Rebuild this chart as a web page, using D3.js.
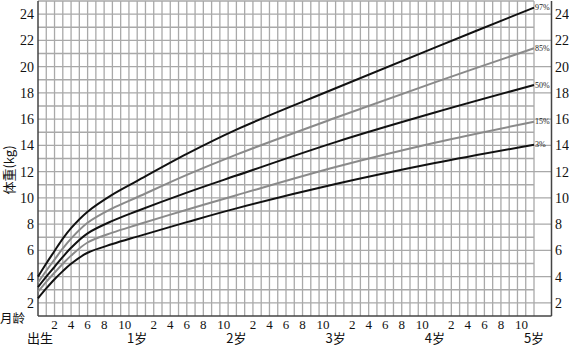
<!DOCTYPE html>
<html><head><meta charset="utf-8">
<script src="https://cdn.jsdelivr.net/npm/d3@7"></script>
<style>body{margin:0;background:#fff;} svg{display:block;}</style>
</head><body>
<svg id="c" width="569" height="346"></svg>
<script>
const months = [0,1,2,3,4,6,9,12,18,24,36,48,60];
const p97 = [4.0,5.0,5.95,6.9,7.7,8.95,10.25,11.3,13.35,15.2,18.35,21.45,24.5];
const p85 = [3.55,4.45,5.3,6.15,6.9,8.1,9.2,10.05,11.75,13.3,16.1,18.8,21.4];
const p50 = [3.2,4.0,4.75,5.5,6.2,7.3,8.25,9.0,10.4,11.7,14.25,16.5,18.6];
const p15 = [2.85,3.6,4.3,4.98,5.6,6.6,7.35,7.95,9.1,10.2,12.35,14.2,15.8];
const p3  = [2.35,3.1,3.8,4.42,4.98,5.82,6.48,7.05,8.15,9.2,11.05,12.65,14.05];
const seriesNames = ["97%","85%","50%","15%","3%"];
const seriesValues = [p97,p85,p50,p15,p3];
const seriesColors = ["#111","#8a8a8a","#111","#8a8a8a","#111"];
const yTicks = [2,4,6,8,10,12,14,16,18,20,22,24];
const monthLabels = ["2","4","6","8","10"];
const yearLabels = ["出生","1岁","2岁","3岁","4岁","5岁"];

const SERIF = "Liberation Serif";
const CJK = "Noto Sans CJK SC";
const svg = d3.select("#c");
const x = d3.scaleLinear().domain([0,60]).range([38,534]);
const y = d3.scaleLinear().domain([1,25]).range([316,1]);
const xRight = 551.5;

// grid
const g = svg.append("g");
g.selectAll("line.v").data(d3.range(1,61)).join("line")
  .attr("x1", d=>x(d)).attr("x2", d=>x(d)).attr("y1", y(25)).attr("y2", y(1))
  .attr("stroke","#a9a9a9").attr("stroke-width",1.3);
g.selectAll("line.h").data(d3.range(2,26)).join("line")
  .attr("x1", x(0)).attr("x2", d=> d%2===0 ? xRight : x(60))
  .attr("y1", d=>y(d)).attr("y2", d=>y(d))
  .attr("stroke","#a9a9a9").attr("stroke-width",1.3);
// frame
g.append("line").attr("x1",x(0)).attr("x2",x(0)).attr("y1",y(25)).attr("y2",y(1)).attr("stroke","#444").attr("stroke-width",1.5);
g.append("line").attr("x1",x(0)).attr("x2",xRight).attr("y1",y(1)).attr("y2",y(1)).attr("stroke","#444").attr("stroke-width",1.5);
g.append("line").attr("x1",xRight).attr("x2",xRight).attr("y1",y(25)).attr("y2",y(1)).attr("stroke","#444").attr("stroke-width",1.5);

// curves
const line = d3.line().x((d,i)=>x(months[i])).y(d=>y(d)).curve(d3.curveCatmullRom.alpha(0.5));
seriesValues.forEach((vals,k)=>{
  svg.append("path").attr("d", line(vals)).attr("fill","none")
    .attr("stroke", seriesColors[k]).attr("stroke-width",2);
  svg.append("text").style("font-family",SERIF).attr("x", x(60)+1).attr("y", y(vals[vals.length-1])+2.5)
    .attr("font-size",8).attr("fill","#222")
    .text(seriesNames[k]);
});

// y tick labels
svg.selectAll("text.yl").data(yTicks).join("text").style("font-family",SERIF)
  .attr("x",34).attr("y",d=>y(d)+5).attr("text-anchor","end")
  .attr("font-size",14).attr("fill","#111").text(d=>d);
svg.selectAll("text.yr").data(yTicks).join("text").style("font-family",SERIF)
  .attr("x",555).attr("y",d=>y(d)+5).attr("text-anchor","start")
  .attr("font-size",14).attr("fill","#111").text(d=>d);

// month labels
const mData = [];
for (let yr=0; yr<5; yr++) monthLabels.forEach(l=>mData.push({m: yr*12+ +l, l}));
svg.selectAll("text.ml").data(mData).join("text").style("font-family",SERIF)
  .attr("x",d=>x(d.m) + (d.l==="10"?4:0)).attr("y",329).attr("text-anchor","middle")
  .attr("font-size",13).attr("fill","#111").text(d=>d.l);
svg.selectAll("text.yrl").data(yearLabels).join("text").style("font-family",CJK)
  .attr("x",(d,i)=> i===0 ? 40 : x(i*12)).attr("y",343).attr("text-anchor","middle")
  .attr("font-size",13).attr("fill","#111").text(d=>d);

svg.append("text").style("font-family",CJK).attr("x",0).attr("y",323).attr("font-size",12.5).attr("fill","#111").text("月龄");
svg.append("text").style("font-family",CJK).attr("transform","translate(14,170) rotate(-90)").attr("text-anchor","middle")
  .attr("font-size",13).attr("fill","#111").text("体重(kg)");
</script>
</body></html>
